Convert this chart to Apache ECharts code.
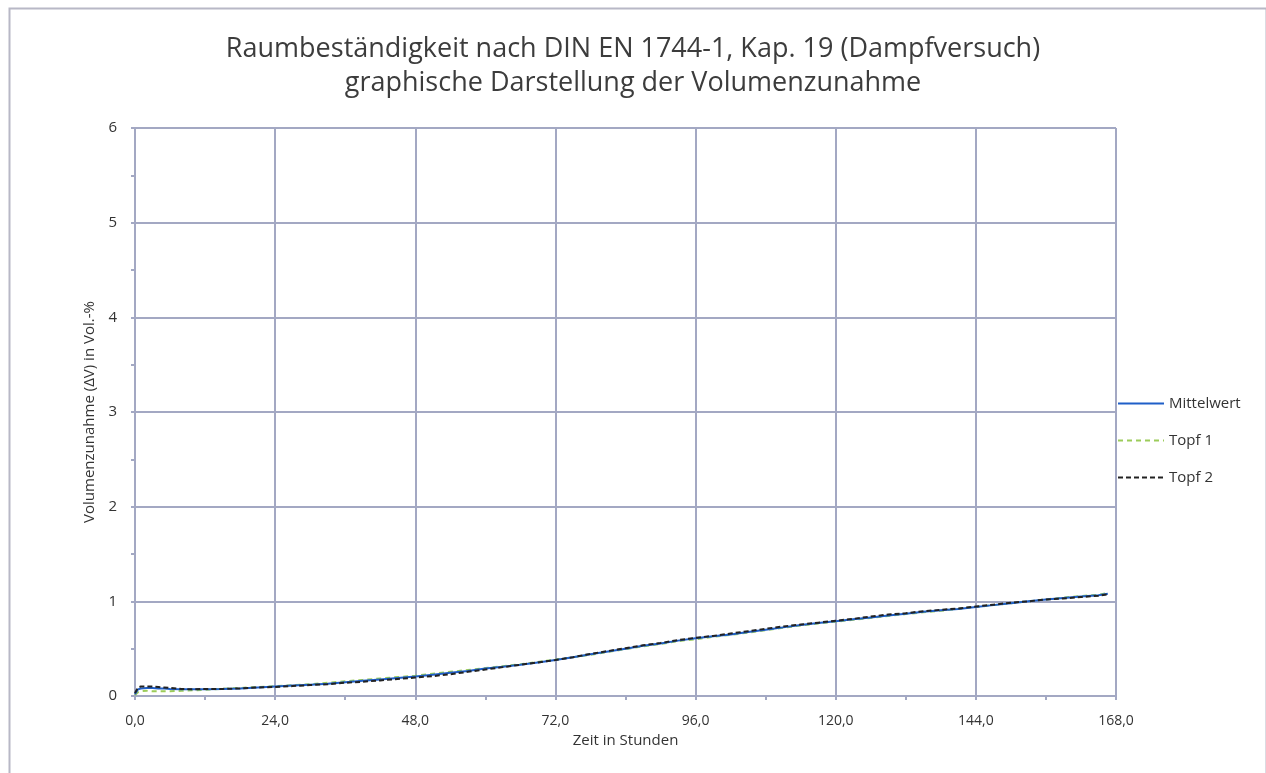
<!DOCTYPE html>
<html><head><meta charset="utf-8">
<script src="https://cdn.jsdelivr.net/npm/echarts@6/dist/echarts.min.js"></script>
<style>html,body{margin:0;padding:0;background:#fff}#c{width:1266px;height:773px}</style>
</head><body><div id="c"></div>
<script>
const titleLines = ['Raumbeständigkeit nach DIN EN 1744-1, Kap. 19 (Dampfversuch)', 'graphische Darstellung der Volumenzunahme'];
const xName = 'Zeit in Stunden';
const yName = 'Volumenzunahme (ΔV) in Vol.-%';
const seriesNames = ['Mittelwert', 'Topf 1', 'Topf 2'];
const hours =      [0,    0.5,  1,    2,    3,    4,    5,    6,    8,    10,   12,   15,   18,   21,   24,   27,   30,   33,   36,   39,   42,   45,   48,   51,   54,   57,   60,   63,   66,   69,   72,   75,   78,   81,   84,   87,   90,   93,   96,   99,   102,  105,  108,  111,  114,  117,  120,  123,  126,  129,  132,  135,  138,  141,  144,  147,  150,  153,  156,  159,  162,  165,  166.6];
const mittelwert = [0.02, 0.07, 0.08, 0.085,0.085,0.08, 0.08, 0.075,0.07, 0.07, 0.072,0.075,0.08, 0.09, 0.10, 0.11, 0.12, 0.13, 0.145,0.16, 0.175,0.19, 0.205,0.225,0.245,0.265,0.29, 0.31, 0.33, 0.355,0.38, 0.41, 0.44, 0.47, 0.50, 0.53, 0.555,0.585,0.61, 0.63, 0.65, 0.675,0.70, 0.725,0.75, 0.77, 0.79, 0.81, 0.83, 0.85, 0.87, 0.89, 0.905,0.92, 0.94, 0.96, 0.98, 1.0,  1.02, 1.035,1.05, 1.065,1.08];
const topf1 =      [0.01, 0.04, 0.05, 0.055,0.05, 0.05, 0.05, 0.05, 0.055,0.06, 0.065,0.075,0.085,0.095,0.105,0.115,0.125,0.14, 0.155,0.17, 0.185,0.20, 0.215,0.235,0.255,0.275,0.295,0.315,0.335,0.36, 0.385,0.41, 0.435,0.465,0.495,0.525,0.55, 0.58, 0.60, 0.625,0.645,0.67, 0.695,0.72, 0.745,0.765,0.785,0.805,0.825,0.845,0.865,0.885,0.90, 0.92, 0.94, 0.96, 0.98, 1.0,  1.02, 1.04, 1.055,1.07, 1.09];
const topf2 =      [0.03, 0.09, 0.10, 0.10, 0.10, 0.095,0.09, 0.085,0.075,0.07, 0.075,0.075,0.08, 0.09, 0.095,0.105,0.115,0.125,0.14, 0.15, 0.165,0.18, 0.195,0.21, 0.23, 0.255,0.28, 0.305,0.33, 0.355,0.38, 0.41, 0.445,0.475,0.505,0.535,0.56, 0.59, 0.615,0.635,0.66, 0.685,0.71, 0.735,0.755,0.775,0.795,0.815,0.84, 0.86, 0.875,0.895,0.91, 0.925,0.945,0.965,0.985,1.0,  1.02, 1.03, 1.045,1.06, 1.075];
const xTicks = {min: 0, max: 168, interval: 24};
const yTicks = {min: 0, max: 6, interval: 1};

const pair = (ys) => hours.map((h, i) => [h, ys[i]]);
const gridColor = '#a3a8c3';
const chart = echarts.init(document.getElementById('c'), null, {renderer: 'canvas'});
chart.setOption({
  backgroundColor: '#fff',
  animation: false,
  graphic: [{
    type: 'rect', left: 7, top: 6, z: -10, silent: true,
    shape: {width: 1257, height: 800},
    style: {fill: 'none', stroke: '#b8b8c6', lineWidth: 2}
  }],
  title: {
    text: titleLines.join('\n'),
    left: 'center', top: 27,
    textStyle: {fontFamily: 'Open Sans', fontWeight: 'normal', fontSize: 27, color: '#3c3c3c', lineHeight: 34}
  },
  grid: {left: 135, right: 150, top: 128, bottom: 77},
  legend: {
    orient: 'vertical', left: 1117, top: 396, padding: 0,
    itemWidth: 46, itemHeight: 14, itemGap: 22,
    itemStyle: {opacity: 0, borderWidth: 0},
    textStyle: {fontFamily: 'Open Sans', fontSize: 15, color: '#333', padding: [0, 0, 0, 0]},
    data: seriesNames
  },
  xAxis: {
    type: 'value', min: xTicks.min, max: xTicks.max, interval: xTicks.interval,
    name: xName, nameLocation: 'middle', nameGap: 12,
    nameTextStyle: {fontFamily: 'Open Sans', fontSize: 15, color: '#333'},
    axisLine: {lineStyle: {color: gridColor, width: 2}},
    axisTick: {show: true, length: 4, inside: false, lineStyle: {color: gridColor, width: 2}},
    minorTick: {show: true, splitNumber: 2, length: 4, lineStyle: {color: gridColor, width: 2}},
    axisLabel: {fontFamily: 'Open Sans', fontSize: 14, color: '#333', margin: 18,
      formatter: v => v.toFixed(1).replace('.', ',')},
    splitLine: {show: true, lineStyle: {color: gridColor, width: 2}}
  },
  yAxis: {
    type: 'value', min: yTicks.min, max: yTicks.max, interval: yTicks.interval,
    name: yName, nameLocation: 'middle', nameGap: 33,
    nameTextStyle: {fontFamily: 'Open Sans', fontSize: 15, color: '#333'},
    axisLine: {show: true, lineStyle: {color: gridColor, width: 2}},
    axisTick: {show: true, length: 4, lineStyle: {color: gridColor, width: 2}},
    minorTick: {show: true, splitNumber: 2, length: 4, lineStyle: {color: gridColor, width: 2}},
    axisLabel: {fontFamily: 'Open Sans', fontSize: 15, color: '#333', margin: 18},
    splitLine: {show: true, lineStyle: {color: gridColor, width: 2}}
  },
  series: [
    {name: seriesNames[0], type: 'line', symbol: 'none', data: pair(mittelwert),
      lineStyle: {color: '#1f5fc8', width: 2}, itemStyle: {color: '#1f5fc8'}, z: 3},
    {name: seriesNames[1], type: 'line', symbol: 'none', data: pair(topf1),
      lineStyle: {color: '#9ccc5a', width: 2, type: [5, 4]}, itemStyle: {color: '#9ccc5a'}, z: 2},
    {name: seriesNames[2], type: 'line', symbol: 'none', data: pair(topf2),
      lineStyle: {color: '#222', width: 2, type: [5, 3]}, itemStyle: {color: '#222'}, z: 4}
  ]
});
</script></body></html>
